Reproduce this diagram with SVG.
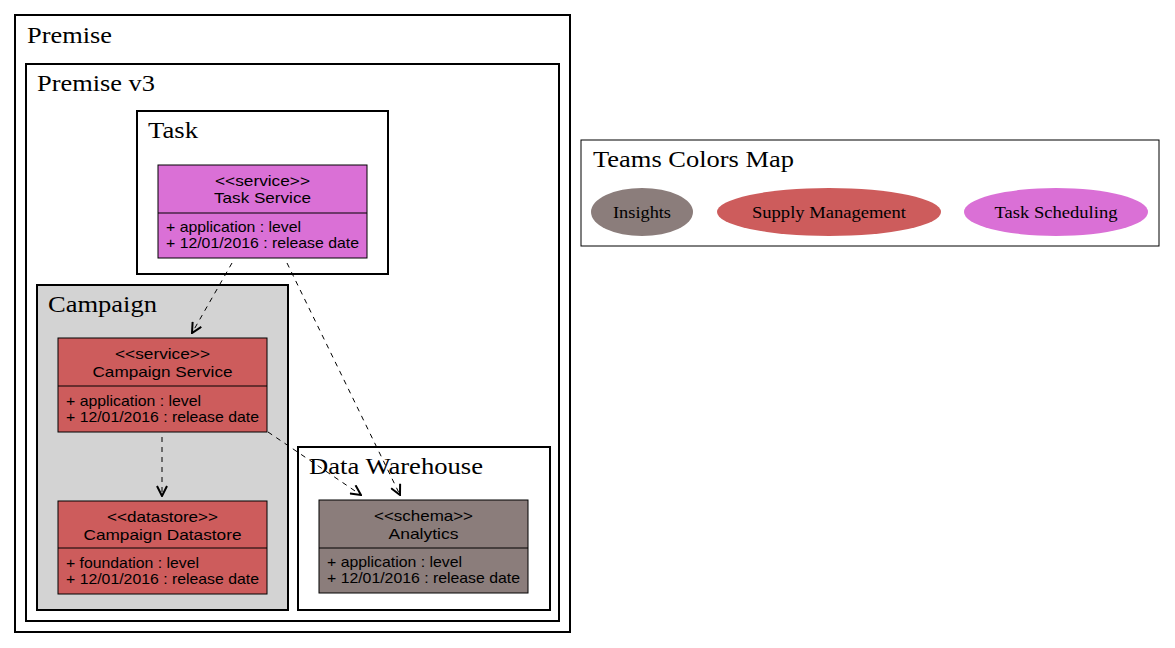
<svg xmlns="http://www.w3.org/2000/svg" width="1175" height="648" viewBox="0 0 1175 648">
<style>
.cl{stroke:#000;stroke-width:2}
.ct{font-family:"Liberation Serif",serif;font-size:23px;fill:#000}
.nd{stroke:#000;stroke-width:1}
.nt{font-family:"Liberation Sans",Arial,sans-serif;font-size:15px;fill:#000}
.lt{font-family:"Liberation Serif",serif;font-size:16px;fill:#000}
.ed{fill:none;stroke:#000;stroke-width:1;stroke-dasharray:5,5}
</style>
<defs>
<marker id="ah" viewBox="0 0 12 12" refX="11" refY="6" markerWidth="12" markerHeight="12" markerUnits="userSpaceOnUse" orient="auto">
<path d="M1,1 L11,6 L1,11" fill="none" stroke="#000" stroke-width="2"/>
</marker>
</defs>
<rect x="0" y="0" width="1175" height="648" fill="#fff"/>
<g id="premise">
<rect class="cl" x="15" y="15" width="555" height="617" fill="none"/>
<text class="ct" x="27" y="43" textLength="85" lengthAdjust="spacingAndGlyphs">Premise</text>
</g>
<g id="premise-v3">
<rect class="cl" x="26" y="64" width="533" height="557" fill="none"/>
<text class="ct" x="37" y="91" textLength="118" lengthAdjust="spacingAndGlyphs">Premise v3</text>
</g>
<g id="task">
<rect class="cl" x="137" y="111" width="251" height="163" fill="none"/>
<text class="ct" x="148" y="138" textLength="50" lengthAdjust="spacingAndGlyphs">Task</text>
</g>
<g id="campaign">
<rect class="cl" x="37" y="285" width="251" height="325" fill="#d3d3d3"/>
<text class="ct" x="48" y="312" textLength="109" lengthAdjust="spacingAndGlyphs">Campaign</text>
</g>
<g id="data-warehouse">
<rect class="cl" x="298" y="447" width="252" height="163" fill="none"/>
<text class="ct" x="309" y="474" textLength="174" lengthAdjust="spacingAndGlyphs">Data Warehouse</text>
</g>
<g id="connectors">
<line class="ed" x1="232" y1="263" x2="192" y2="333" marker-end="url(#ah)"/>
<line class="ed" x1="287" y1="263" x2="400" y2="495" marker-end="url(#ah)"/>
<line class="ed" x1="162" y1="437" x2="162" y2="496" marker-end="url(#ah)"/>
<line class="ed" x1="268" y1="432" x2="361" y2="495" marker-end="url(#ah)"/>
</g>
<g id="task-service">
<rect class="nd" x="158" y="165" width="209" height="93" fill="#da70d6"/>
<line class="nd" x1="158" y1="213" x2="367" y2="213"/>
<text class="nt" x="262.5" y="186" text-anchor="middle" textLength="95" lengthAdjust="spacingAndGlyphs">&lt;&lt;service&gt;&gt;</text>
<text class="nt" x="262.5" y="203" text-anchor="middle" textLength="97" lengthAdjust="spacingAndGlyphs">Task Service</text>
<text class="nt" x="166" y="232" textLength="135" lengthAdjust="spacingAndGlyphs">+ application : level</text>
<text class="nt" x="166" y="248" textLength="193" lengthAdjust="spacingAndGlyphs">+ 12/01/2016 : release date</text>
</g>
<g id="campaign-service">
<rect class="nd" x="58" y="338" width="209" height="94" fill="#cd5c5c"/>
<line class="nd" x1="58" y1="386" x2="267" y2="386"/>
<text class="nt" x="162.5" y="359" text-anchor="middle" textLength="95" lengthAdjust="spacingAndGlyphs">&lt;&lt;service&gt;&gt;</text>
<text class="nt" x="162.5" y="377" text-anchor="middle" textLength="140" lengthAdjust="spacingAndGlyphs">Campaign Service</text>
<text class="nt" x="66" y="406" textLength="135" lengthAdjust="spacingAndGlyphs">+ application : level</text>
<text class="nt" x="66" y="422" textLength="193" lengthAdjust="spacingAndGlyphs">+ 12/01/2016 : release date</text>
</g>
<g id="campaign-datastore">
<rect class="nd" x="58" y="501" width="209" height="93" fill="#cd5c5c"/>
<line class="nd" x1="58" y1="548" x2="267" y2="548"/>
<text class="nt" x="162.5" y="522" text-anchor="middle" textLength="111" lengthAdjust="spacingAndGlyphs">&lt;&lt;datastore&gt;&gt;</text>
<text class="nt" x="162.5" y="540" text-anchor="middle" textLength="158" lengthAdjust="spacingAndGlyphs">Campaign Datastore</text>
<text class="nt" x="66" y="568" textLength="133" lengthAdjust="spacingAndGlyphs">+ foundation : level</text>
<text class="nt" x="66" y="584" textLength="193" lengthAdjust="spacingAndGlyphs">+ 12/01/2016 : release date</text>
</g>
<g id="analytics">
<rect class="nd" x="319" y="500" width="209" height="93" fill="#8b7d7b"/>
<line class="nd" x1="319" y1="548" x2="528" y2="548"/>
<text class="nt" x="423.5" y="521" text-anchor="middle" textLength="99" lengthAdjust="spacingAndGlyphs">&lt;&lt;schema&gt;&gt;</text>
<text class="nt" x="423.5" y="539" text-anchor="middle" textLength="70" lengthAdjust="spacingAndGlyphs">Analytics</text>
<text class="nt" x="327" y="567" textLength="135" lengthAdjust="spacingAndGlyphs">+ application : level</text>
<text class="nt" x="327" y="583" textLength="193" lengthAdjust="spacingAndGlyphs">+ 12/01/2016 : release date</text>
</g>
<g id="legend">
<rect x="581" y="140" width="578" height="106" fill="none" stroke="#000" stroke-width="1"/>
<text class="ct" x="593" y="167" textLength="201" lengthAdjust="spacingAndGlyphs">Teams Colors Map</text>
<g id="insights">
<ellipse cx="642" cy="212" rx="51" ry="24" fill="#8b7d7b"/>
<text class="lt" x="642" y="218" text-anchor="middle" textLength="58" lengthAdjust="spacingAndGlyphs">Insights</text>
</g>
<g id="supply-management">
<ellipse cx="829" cy="212" rx="112" ry="24" fill="#cd5c5c"/>
<text class="lt" x="829" y="218" text-anchor="middle" textLength="154" lengthAdjust="spacingAndGlyphs">Supply Management</text>
</g>
<g id="task-scheduling">
<ellipse cx="1056" cy="212" rx="92" ry="24" fill="#da70d6"/>
<text class="lt" x="1056" y="218" text-anchor="middle" textLength="123" lengthAdjust="spacingAndGlyphs">Task Scheduling</text>
</g>
</g>
</svg>
